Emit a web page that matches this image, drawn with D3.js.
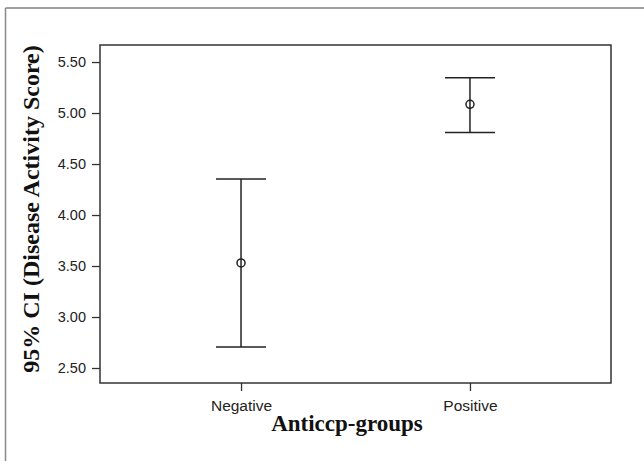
<!DOCTYPE html>
<html>
<head>
<meta charset="utf-8">
<script src="https://cdn.jsdelivr.net/npm/d3@7"></script>
<style>
  body { margin: 0; background: #fff; }
</style>
</head>
<body>
<svg></svg>
<script>
// Anticcp groups: mean disease activity score with 95% CI
const groups = ["Negative", "Positive"];
const means = [3.53, 5.085];
const lowers = [2.705, 4.81];
const uppers = [4.352, 5.345];
const yTicks = [2.5, 3.0, 3.5, 4.0, 4.5, 5.0, 5.5];

const width = 644;
const height = 461;
const plotLeft = 100, plotRight = 611, plotTop = 45, plotBottom = 383;
const capHalf = 25;

const data = groups.map((g, i) => ({ group: g, mean: means[i], lo: lowers[i], hi: uppers[i] }));

const svg = d3.select("svg")
    .attr("width", width)
    .attr("height", height);

// outer frame (only top and left visible)
svg.append("line")
    .attr("x1", 5.5).attr("x2", width)
    .attr("y1", 8).attr("y2", 8)
    .attr("stroke", "#444").attr("stroke-width", 1.2);
svg.append("line")
    .attr("x1", 5.5).attr("x2", 5.5)
    .attr("y1", 8).attr("y2", height)
    .attr("stroke", "#888").attr("stroke-width", 1.5);

// Scales
const xScale = d3.scalePoint()
    .domain(groups)
    .range([plotLeft, plotRight])
    .padding(0.616);

const yScale = d3.scaleLinear()
    .domain([2.353, 5.667])
    .range([plotBottom, plotTop]);

// plot box
svg.append("rect")
    .attr("x", plotLeft).attr("y", plotTop)
    .attr("width", plotRight - plotLeft).attr("height", plotBottom - plotTop)
    .attr("fill", "none")
    .attr("stroke", "#333").attr("stroke-width", 1.5);

// Axes
const yAxis = d3.axisLeft(yScale)
    .tickValues(yTicks)
    .tickFormat(d3.format(".2f"))
    .tickSize(8)
    .tickSizeOuter(0);

const xAxis = d3.axisBottom(xScale)
    .tickSize(8)
    .tickSizeOuter(0);

const gy = svg.append("g")
    .attr("transform", `translate(${plotLeft},0)`)
    .call(yAxis);
gy.select(".domain").remove();
gy.selectAll("line").attr("stroke", "#333").attr("stroke-width", 1.3);
gy.selectAll("text")
    .attr("x", -14)
    .attr("fill", "#222")
    .style("font-family", "'Liberation Sans', Arial, sans-serif")
    .style("font-size", "14.5px");

const gx = svg.append("g")
    .attr("transform", `translate(0,${plotBottom})`)
    .call(xAxis);
gx.select(".domain").remove();
gx.selectAll("line").attr("stroke", "#333").attr("stroke-width", 1.3);
gx.selectAll("text")
    .attr("y", 17)
    .attr("fill", "#222")
    .style("font-family", "'Liberation Sans', Arial, sans-serif")
    .style("font-size", "15.5px");

// error bars
const bars = svg.append("g")
    .selectAll("g")
    .data(data)
    .enter()
    .append("g")
    .attr("stroke", "#222")
    .attr("stroke-width", 1.5)
    .attr("fill", "none");

bars.append("line")
    .attr("x1", d => xScale(d.group)).attr("x2", d => xScale(d.group))
    .attr("y1", d => yScale(d.lo)).attr("y2", d => yScale(d.hi));

bars.append("line")
    .attr("x1", d => xScale(d.group) - capHalf).attr("x2", d => xScale(d.group) + capHalf)
    .attr("y1", d => yScale(d.hi)).attr("y2", d => yScale(d.hi));

bars.append("line")
    .attr("x1", d => xScale(d.group) - capHalf).attr("x2", d => xScale(d.group) + capHalf)
    .attr("y1", d => yScale(d.lo)).attr("y2", d => yScale(d.lo));

bars.append("circle")
    .attr("cx", d => xScale(d.group))
    .attr("cy", d => yScale(d.mean))
    .attr("r", 4);

// titles
svg.append("text")
    .attr("x", 347)
    .attr("y", 431)
    .style("text-anchor", "middle")
    .style("font-family", "'Liberation Serif', 'Times New Roman', serif")
    .style("font-weight", "bold")
    .style("font-size", "23px")
    .attr("fill", "#111")
    .text("Anticcp-groups");

svg.append("text")
    .attr("transform", "translate(39,209) rotate(-90)")
    .style("text-anchor", "middle")
    .style("font-family", "'Liberation Serif', 'Times New Roman', serif")
    .style("font-weight", "bold")
    .style("font-size", "24px")
    .attr("fill", "#111")
    .text("95% CI (Disease Activity Score)");
</script>
</body>
</html>
